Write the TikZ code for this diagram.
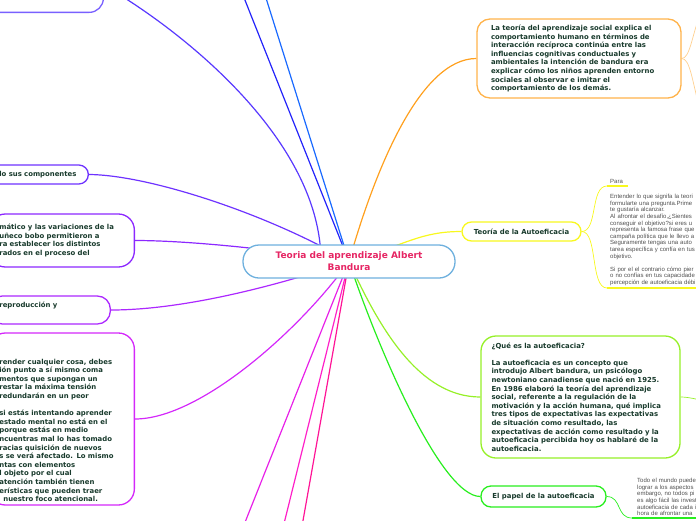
\documentclass[tikz,border=0pt]{standalone}
\usepackage{fontspec}
\setmainfont{DejaVu Sans}
\newfontfamily\notefont{Liberation Sans}
\usetikzlibrary{backgrounds}
\definecolor{inkgreen}{RGB}{24,58,44}
\definecolor{rootblue}{RGB}{110,176,222}
\definecolor{rootpink}{RGB}{230,38,100}
\definecolor{blueA}{RGB}{35,35,250}
\definecolor{blueB}{RGB}{25,105,255}
\definecolor{violetA}{RGB}{88,56,255}
\definecolor{violetB}{RGB}{110,50,255}
\definecolor{violetC}{RGB}{140,40,255}
\definecolor{violetD}{RGB}{172,40,255}
\definecolor{violetE}{RGB}{212,40,250}
\definecolor{pinkA}{RGB}{232,32,232}
\definecolor{pinkB}{RGB}{255,32,200}
\definecolor{pinkC}{RGB}{255,20,150}
\definecolor{orangeA}{RGB}{255,160,30}
\definecolor{yellowA}{RGB}{248,248,30}
\definecolor{limeA}{RGB}{150,240,40}
\definecolor{greenA}{RGB}{40,238,30}
\definecolor{notegray}{RGB}{80,80,80}
\tikzstyle{rootbox} = [rectangle, rounded corners=16pt, draw=rootblue, line width=1.3pt, fill=white, text=rootpink, align=center, font=\bfseries\fontsize{9}{12}\selectfont]
\tikzstyle{topicbox} = [rectangle, line width=1.3pt, fill=white, text=inkgreen, font=\bfseries\fontsize{6.9}{8.6}\selectfont]
\tikzstyle{leftbox} = [topicbox, anchor=east, align=left, inner xsep=10pt]
\tikzstyle{notetext} = [inner xsep=3pt, inner ysep=2pt, align=left, text=notegray, font=\notefont\fontsize{6}{6.6}\selectfont]
\tikzstyle{link} = [line width=1.2pt]
\tikzstyle{sublink} = [line width=0.7pt]

\begin{document}
\begin{tikzpicture}[x=1pt, y=-1pt]
\useasboundingbox (0,0) rectangle (696,520);
\clip (0,0) rectangle (696,520);

% Central topic
\node (root) [rootbox, minimum width=212pt, minimum height=33pt] at (349,261.5) {Teoria del aprendizaje Albert\\Bandura};

% Left side
\node (compA) [leftbox, draw=violetA!80, anchor=south east, minimum width=140pt, minimum height=54pt, rounded corners=14pt] at (104,13) {};
\node (comp) [leftbox, draw=violetB, text width=79pt, minimum height=19pt, rounded corners=9.5pt] at (89,174.5) {lo sus componentes};
\node (compB) [leftbox, draw=violetC, text width=125pt, minimum height=53pt, rounded corners=16pt] at (135,240.5) {mático y las variaciones de la\\uñeco bobo permitieron a\\ra establecer los distintos\\rados en el proceso del};
\node (compC) [leftbox, draw=violetD, text width=101pt, minimum height=28pt, rounded corners=13pt] at (111,310) {reproducción y\\\strut};
\node (compD) [leftbox, draw=violetE, text width=125pt, inner ysep=0pt, minimum height=172pt, rounded corners=16pt] at (135,419) {\strut\\[13.4pt]render cualquier cosa, debes\\ión punto a sí mismo coma\\mentos que supongan un\\restar la máxima tensión\\redundarán en un peor\\[8.6pt]si estás intentando aprender\\estado mental no está en el\\porque estás en medio\\ncuentras mal lo has tomado\\racias quisición de nuevos\\s se verá afectado. Lo mismo\\ntas con elementos\\l objeto por el cual\\atención también tienen\\erísticas que pueden traer\\\hspace*{4pt}nuestro foco atencional.};

% Right side
\node (social) [topicbox, draw=orangeA!80, text width=176pt, inner xsep=14pt, align=left, minimum height=79pt, rounded corners=13pt] at (579,58.5) {La teoría del aprendizaje social explica el\\comportamiento humano en términos de\\interacción recíproca continúa entre las\\influencias cognitivas conductuales y\\ambientales la intención de bandura era\\explicar cómo los niños aprenden entorno\\sociales al observar e imitar el\\comportamiento de los demás.};
\node (autoef) [topicbox, draw=yellowA, minimum width=119pt, minimum height=19pt, rounded corners=9.5pt] at (521.5,231.5) {Teoría de la Autoeficacia};
\node (para) [notetext, anchor=south west, text width=15pt] at (607,186) {Para};
\node (autotxt) [notetext, anchor=south west, text width=124pt] at (607,288) {Entender lo que signifa la teori\\formularte una pregunta.Prime\\te gustaría alcanzar.\\Al afrontar el desafío,¿Sientes\\conseguir el objetivo?si eres u\\representa la famosa frase que\\campaña política que le llevo a\\Seguramente tengas una auto\\tarea específica y confía en tus\\objetivo.\\[6.6pt]Si por el el contrario cómo pier\\o no confías en tus capacidade\\percepción de autoeficacia débi};
\node (quees) [topicbox, draw=limeA, text width=178pt, inner xsep=10.5pt, align=left, minimum height=122pt, rounded corners=15pt] at (580.5,397) {¿Qué es la autoeficacia?\\[8.6pt]La autoeficacia es un concepto que\\introdujo Albert bandura, un psicólogo\\newtoniano canadiense que nació en 1925.\\En 1986 elaboró la teoría del aprendizaje\\social, referente a la regulación de la\\motivación y la acción humana, qué implica\\tres tipos de expectativas las expectativas\\de situación como resultado, las\\expectativas de acción como resultado y la\\autoeficacia percibida hoy os hablaré de la\\autoeficacia.};
\node (papel) [topicbox, draw=greenA, minimum width=125pt, minimum height=21pt, rounded corners=10pt] at (543.5,496.5) {El papel de la autoeficacia};
\node (papeltxt) [notetext, anchor=south west, inner xsep=5pt, text width=70pt] at (632,518) {Todo el mundo puede\\lograr a los aspectos\\embargo, no todos pi\\es algo fácil las invest\\autoeficacia de cada i\\hora de afrontar una};

% Ends outside the page
\coordinate (tA) at (229,-40);
\coordinate (tB) at (254,-40);
\coordinate (bA) at (230,560);
\coordinate (bB) at (275,560);
\coordinate (bC) at (296,560);
\coordinate (oA) at (700,15);
\coordinate (oB) at (700,110);
\coordinate (lB) at (720,405);

% Underlines
\draw [yellowA, line width=1.5pt] (para.south west) -- (para.south east);
\draw [yellowA, line width=1.5pt] (autotxt.south west) -- (autotxt.south east);
\draw [greenA, line width=1.5pt] (papeltxt.south west) -- (papeltxt.south east);

% Connectors
\begin{pgfonlayer}{background}
\clip (0,0) rectangle (696,520);
\draw [link, blueA] (root.center) -- (tA);
\draw [link, blueB] (root.center) -- (tB);
\draw [link, violetA] (compA.east) .. controls (184,31.6) and (321,141) .. ([xshift=-28pt]root.center);
\draw [link, violetB] (comp.east) .. controls (150,175) and (270,215) .. (root.center);
\draw [link, violetC] (compB.east) .. controls (190,240.5) and (280,250) .. (root.center);
\draw [link, violetD] (compC.east) .. controls (180,310) and (270,288) .. (root.center);
\draw [link, violetE] (compD.east) .. controls (200,419) and (300,330) .. (root.center);
\draw [link, pinkA] (root.center) -- (bA);
\draw [link, pinkB] (root.center) -- (bB);
\draw [link, pinkC] (root.center) -- (bC);
\draw [link, orangeA] (root.center) .. controls (375,170) and (420,58.5) .. (social.west);
\draw [link, yellowA] (root.center) .. controls (405,245) and (420,231.5) .. (autoef.west);
\draw [link, limeA] (root.center) .. controls (380,330) and (420,397) .. (quees.west);
\draw [link, greenA] (root.center) .. controls (375,340) and (440,496.5) .. (papel.west);
\draw [sublink, orangeA!50] (social.east) .. controls (690,58.5) and (692,35) .. (oA);
\draw [sublink, orangeA!50] (social.east) .. controls (690,58.5) and (692,80) .. (oB);
\draw [sublink, yellowA] (autoef.east) .. controls (598,231.5) and (590,186) .. (para.south west);
\draw [sublink, yellowA] (autoef.east) .. controls (598,231.5) and (590,288) .. (autotxt.south west);
\draw [sublink, limeA] (quees.east) .. controls (690,397) and (700,400) .. (lB);
\draw [sublink, greenA] (papel.east) .. controls (622,496.5) and (616,518) .. (papeltxt.south west);
\end{pgfonlayer}
\end{tikzpicture}
\end{document}
